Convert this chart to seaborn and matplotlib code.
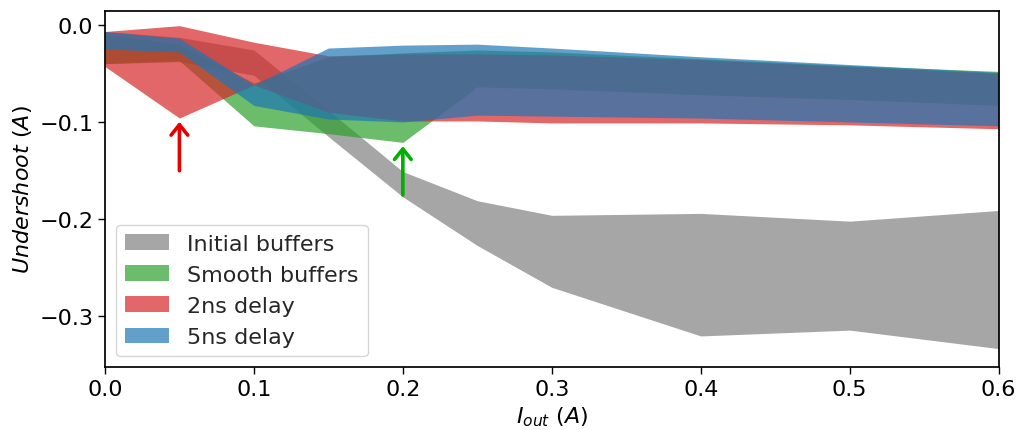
import matplotlib
matplotlib.use("Agg")
import matplotlib.pyplot as plt
import seaborn as sns

# output current (A) at which each undershoot was measured
iout = [0.0, 0.05, 0.1, 0.15, 0.2, 0.25, 0.3, 0.4, 0.5, 0.6]

# undershoot envelope (max / min) per configuration, in A
initial_hi = [-0.007, -0.013, -0.026, -0.088, -0.151, -0.181, -0.196, -0.194, -0.202, -0.191]
initial_lo = [-0.040, -0.038, -0.052, -0.115, -0.177, -0.227, -0.270, -0.320, -0.314, -0.333]

smooth_hi = [-0.010, -0.020, -0.060, -0.033, -0.029, -0.026, -0.028, -0.035, -0.042, -0.048]
smooth_lo = [-0.040, -0.037, -0.104, -0.112, -0.121, -0.064, -0.066, -0.072, -0.077, -0.083]

delay2_hi = [-0.007, -0.001, -0.018, -0.032, -0.030, -0.030, -0.031, -0.036, -0.043, -0.050]
delay2_lo = [-0.043, -0.096, -0.062, -0.090, -0.099, -0.099, -0.101, -0.101, -0.103, -0.107]

delay5_hi = [-0.007, -0.014, -0.062, -0.024, -0.021, -0.020, -0.024, -0.033, -0.041, -0.049]
delay5_lo = [-0.025, -0.028, -0.083, -0.097, -0.100, -0.093, -0.094, -0.096, -0.100, -0.104]

labels = ["Initial buffers", "Smooth buffers", "2ns delay", "5ns delay"]

sns.set_theme(style="ticks", rc={"axes.edgecolor": "black", "xtick.color": "black",
                                 "ytick.color": "black", "axes.labelcolor": "black"})
plt.rcParams["font.family"] = ["DejaVu Sans"]
plt.rcParams["font.size"] = 16

tab = sns.color_palette("tab10")
colors = ["gray", tab[2], tab[3], tab[0]]

fig = plt.figure(figsize=(10.19, 4.31), dpi=100)
ax = fig.add_axes([0.103, 0.146, 0.877, 0.826])

bands = [(initial_hi, initial_lo), (smooth_hi, smooth_lo),
         (delay2_hi, delay2_lo), (delay5_hi, delay5_lo)]
for (hi, lo), c, lab in zip(bands, colors, labels):
    ax.fill_between(iout, lo, hi, color=c, alpha=0.7, linewidth=0, label=lab)

# arrows marking the worst undershoot of the two fixes
arrow = "->,head_width=0.4,head_length=0.5"
ax.annotate("", xy=(0.05, -0.097), xytext=(0.05, -0.153),
            arrowprops=dict(arrowstyle=arrow, color="#e60000", lw=2.6, mutation_scale=15))
ax.annotate("", xy=(0.2, -0.122), xytext=(0.2, -0.178),
            arrowprops=dict(arrowstyle=arrow, color="#00b000", lw=2.6, mutation_scale=15))

ax.set_xlim(0, 0.6)
ax.set_ylim(-0.352, 0.014)
ax.set_xticks([0.0, 0.1, 0.2, 0.3, 0.4, 0.5, 0.6])
ax.set_yticks([0.0, -0.1, -0.2, -0.3])
ax.tick_params(labelsize=16, length=5, width=1)
ax.set_xlabel(r"$I_{out}\ (A)$", fontsize=16)
ax.set_ylabel(r"$Undershoot\ (A)$", fontsize=16)
ax.legend(loc="lower left", fontsize=16)

fig.savefig("out.png", dpi=100)
